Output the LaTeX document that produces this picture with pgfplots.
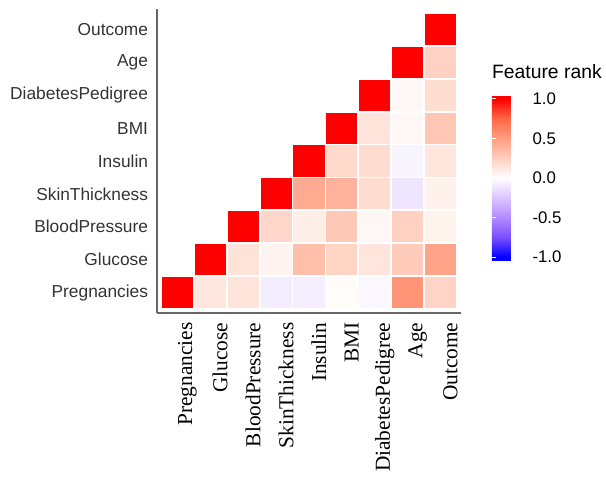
\documentclass[border=0pt]{standalone}
\usepackage{pgfplots}
\pgfplotsset{compat=1.18}
\usepackage{pgfplotstable}
\usepackage{fontspec}
\setmainfont{Liberation Sans}
\newfontfamily\serifx{Liberation Serif}

\pgfplotstableread{
x y c
0 0 1.000
1 0 0.129
2 0 0.141
3 0 -0.082
4 0 -0.074
5 0 0.018
6 0 -0.034
7 0 0.544
8 0 0.222
1 1 1.000
2 1 0.153
3 1 0.057
4 1 0.331
5 1 0.221
6 1 0.137
7 1 0.264
8 1 0.467
2 2 1.000
3 2 0.207
4 2 0.089
5 2 0.282
6 2 0.041
7 2 0.240
8 2 0.065
3 3 1.000
4 3 0.437
5 3 0.393
6 3 0.184
7 3 -0.114
8 3 0.075
4 4 1.000
5 4 0.198
6 4 0.185
7 4 -0.042
8 4 0.131
5 5 1.000
6 5 0.141
7 5 0.036
8 5 0.293
6 6 1.000
7 6 0.034
8 6 0.174
7 7 1.000
8 7 0.238
8 8 1.000
}\corrdata

\begin{document}
\begin{tikzpicture}
\path[use as bounding box] (0,0) rectangle (454.5pt,363pt);
\begin{axis}[
  at={(117.75pt,128.25pt)}, anchor=south west,
  scale only axis, width=228pt, height=228pt,
  xmin=-0.62, xmax=8.62, ymin=-0.62, ymax=8.62,
  axis lines=left,
  axis line style={-, draw=black!60, line width=1pt},
  major tick length=0pt,
  xtick={0.3,1.3,2.3,3.3,4.3,5.3,6.3,7.3,8.3},
  xticklabels={Pregnancies,Glucose,BloodPressure,SkinThickness,Insulin,BMI,DiabetesPedigree,Age,Outcome},
  ytick={0,1,2,3,4,5,6,7,8},
  yticklabels={Pregnancies,Glucose,BloodPressure,SkinThickness,Insulin,BMI,DiabetesPedigree,Age,Outcome},
  xticklabel style={rotate=90, anchor=east, font=\serifx\fontsize{16}{18}\selectfont, text=black},
  xticklabel shift=3.7pt,
  yticklabel style={font=\fontsize{13}{15}\selectfont, text=black!80, xshift=-3.2pt},
  colormap={corr}{
    rgb255(0pt)=(0,0,255);
    rgb255(5pt)=(0,0,255);
    rgb255(30pt)=(123,79,254);
    rgb255(55pt)=(179,139,255);
    rgb255(80pt)=(220,197,255);
    rgb255(105pt)=(255,255,255);
    rgb255(130pt)=(255,207,191);
    rgb255(155pt)=(255,158,129);
    rgb255(180pt)=(255,104,70);
    rgb255(205pt)=(255,0,0);
    rgb255(210pt)=(255,0,0)
  },
  point meta min=-1.05, point meta max=1.05,
  colorbar,
  colorbar style={
    at={(parent axis.north east)}, anchor=north west,
    xshift=14.6pt, yshift=-64.5pt,
    scale only axis, width=24pt, height=124.5pt,
    ytick={-1,-0.5,0,0.5,1},
    yticklabels={-1.0,-0.5,0.0,0.5,1.0},
    yticklabel style={font=\fontsize{12.6}{14}\selectfont, xshift=3pt},
    ytick pos=both, yticklabel pos=right, tick align=inside,
    major tick length=3pt,
    ytick style={draw=white, line width=0.8pt},
    axis line style={draw=none},
    title={Feature rank},
    title style={at={(0,1)}, anchor=base west, yshift=6pt, inner sep=0pt,
      font=\fontsize{14.5}{16}\selectfont},
  },
]
\addplot[scatter, only marks, mark=square*, mark size=12.34pt,
  scatter src=explicit,
  scatter/use mapped color={draw=white, fill=mapped color, line width=1.4pt}]
  table[x=x, y=y, meta=c] {\corrdata};
\end{axis}
\end{tikzpicture}
\end{document}
